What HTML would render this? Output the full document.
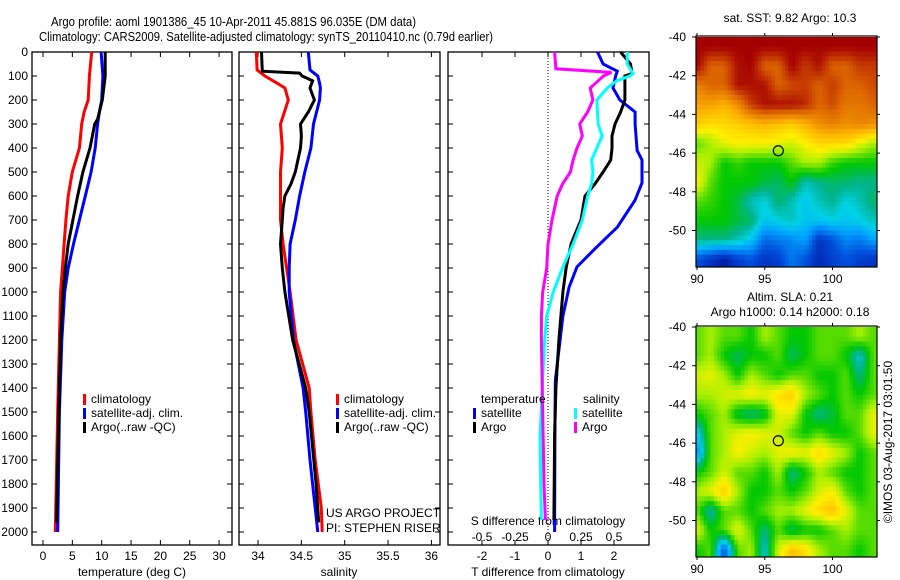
<!DOCTYPE html>
<html><head><meta charset="utf-8"><style>
body{margin:0;background:#fff}
svg{display:block;font-family:"Liberation Sans",sans-serif}
</style></head><body>
<svg id="c" width="900" height="580" xmlns="http://www.w3.org/2000/svg">
<text x="51" y="26" font-size="13" textLength="365" lengthAdjust="spacingAndGlyphs">Argo profile: aoml 1901386_45 10-Apr-2011 45.881S 96.035E (DM data)</text>
<text x="39" y="41" font-size="13" textLength="454" lengthAdjust="spacingAndGlyphs">Climatology: CARS2009. Satellite-adjusted climatology: synTS_20110410.nc (0.79d earlier)</text>
<text x="790" y="22" font-size="12" text-anchor="middle">sat. SST: 9.82 Argo: 10.3</text>
<text x="790" y="301" font-size="12" text-anchor="middle">Altim. SLA: 0.21</text>
<text x="790" y="316" font-size="12" text-anchor="middle">Argo h1000: 0.14 h2000: 0.18</text>
<text transform="translate(892,442) rotate(-90)" font-size="12" text-anchor="middle">©IMOS 03-Aug-2017 03:01:50</text>
<g id="g"></g>
</svg>
<script>
// ---- profile data (depth in m) ----
const depthT=[0,100,200,250,300,400,500,600,700,800,900,1000,1200,1500,2000];
const tempClim=[8.3,7.9,7.7,7.0,6.6,6.2,5.0,4.3,3.9,3.6,3.3,3.0,2.8,2.5,2.1];
const tempSat=[9.9,10.2,10.0,9.6,9.3,8.9,8.2,7.2,6.2,5.2,4.3,3.7,3.2,2.8,2.5];
const depthA=[0,100,200,280,300,400,500,600,700,800,900,1000,1200,1500,1960];
const tempArgo=[10.6,10.6,10.1,9.3,8.8,8.0,6.8,5.9,5.1,4.3,3.8,3.4,3.0,2.7,2.3];
const depthS=[0,75,100,130,150,200,300,400,500,600,700,800,900,1000,1200,1400,1500,1700,1900,2000];
const salClim=[33.98,33.99,34.08,34.22,34.31,34.35,34.26,34.28,34.26,34.26,34.26,34.29,34.33,34.37,34.44,34.59,34.61,34.66,34.73,34.74];
const salSat=[34.58,34.6,34.69,34.71,34.72,34.71,34.64,34.61,34.54,34.48,34.43,34.37,34.36,34.36,34.41,34.52,34.55,34.6,34.66,34.69];
const depthSA=[0,80,88,100,120,150,200,250,300,350,400,500,550,600,650,700,800,900,1000,1200,1400,1500,1800,1960];
const salArgo=[34.04,34.05,34.48,34.51,34.63,34.6,34.65,34.58,34.49,34.5,34.49,34.43,34.38,34.31,34.29,34.28,34.26,34.28,34.31,34.4,34.55,34.59,34.67,34.7];
// differences
const depthD=[0,50,80,100,150,200,250,300,410,450,545,617,730,812,895,980,1100,1370,1600,2000];
const dTsat=[1.5,1.67,2.1,2.05,1.97,2.18,2.64,2.64,2.7,2.85,2.85,2.64,2.1,1.48,0.88,0.64,0.45,0.22,0.21,0.2];
const depthDA=[0,50,90,100,150,200,250,300,350,400,450,500,550,600,700,750,800,900,1000,1200,1400,1600,1950];
const dTargo=[2.2,2.5,2.55,2.33,2.33,2.33,2.2,2.03,1.94,1.94,1.9,1.67,1.42,1.12,1.0,0.85,0.7,0.55,0.45,0.33,0.24,0.2,0.18];
const depthDS=[0,50,90,100,120,150,200,300,350,400,450,500,550,600,650,700,800,900,1000,1100,1200,1400,1600,1800,1950];
const dSsat=[0.6,0.6,0.645,0.62,0.52,0.45,0.37,0.38,0.41,0.37,0.33,0.34,0.33,0.3,0.28,0.26,0.19,0.11,0.04,-0.01,-0.025,-0.045,-0.06,-0.055,-0.05];
const depthDSA=[0,70,85,100,120,150,200,250,300,350,400,450,500,550,600,700,800,900,1000,1100,1200,1500,1800,1950];
const dSargo=[0.05,0.06,0.48,0.42,0.38,0.32,0.34,0.3,0.24,0.26,0.22,0.19,0.17,0.11,0.07,0.03,0,-0.01,-0.04,-0.05,-0.05,-0.04,-0.03,-0.02];
const depthTicks=[0,100,200,300,400,500,600,700,800,900,1000,1100,1200,1300,1400,1500,1600,1700,1800,1900,2000];
const tempTicks=[0,5,10,15,20,25,30];
const salTicks=[34,34.5,35,35.5,36];
const salTickLabels=['34','34.5','35','35.5','36'];
const dTTicks=[-2,-1,0,1,2];
const dSTicks=[-0.5,-0.25,0,0.25,0.5];
const dSTickLabels=['-0.5','-0.25','0','0.25','0.5'];
// ---- map data (rows lat -40.5..-51.5, cols lon 90..103), colormap index 0..1 ----
const sstGrid=[
[.97,.97,.97,.97,.97,.97,.97,.97,.97,.97,.97,.97,.97,.97],
[.97,.85,.85,.95,.97,.85,.85,.97,.9,.95,.85,.85,.9,.9],
[.8,.85,.85,.95,.95,.95,.85,.88,.9,.85,.9,.85,.85,.88],
[.75,.75,.72,.78,.9,.95,.95,.95,.92,.85,.88,.82,.82,.85],
[.68,.65,.66,.68,.7,.72,.7,.68,.72,.78,.8,.78,.8,.78],
[.5,.55,.6,.62,.62,.62,.6,.58,.62,.66,.66,.66,.6,.55],
[.58,.55,.45,.48,.45,.45,.45,.5,.55,.55,.48,.45,.45,.45],
[.62,.5,.45,.45,.45,.42,.4,.45,.35,.38,.4,.4,.38,.38],
[.5,.48,.45,.42,.35,.32,.4,.35,.3,.35,.38,.32,.35,.4],
[.45,.45,.45,.42,.4,.3,.32,.35,.3,.3,.32,.3,.32,.35],
[.38,.38,.38,.35,.3,.18,.2,.22,.25,.1,.15,.22,.2,.25],
[.15,.1,.05,.12,.15,.1,.12,.2,.15,.08,.12,.15,.12,.1]];
const slaGrid=[
[.5,.55,.5,.5,.45,.55,.5,.45,.45,.5,.5,.5,.55,.5],
[.5,.55,.45,.4,.45,.45,.5,.4,.45,.5,.5,.45,.33,.5],
[.58,.6,.55,.45,.55,.5,.45,.5,.5,.45,.45,.5,.38,.5],
[.55,.55,.58,.6,.62,.6,.65,.68,.55,.5,.45,.5,.45,.5],
[.45,.5,.55,.42,.38,.42,.6,.6,.45,.38,.42,.5,.5,.6],
[.3,.5,.55,.6,.62,.6,.58,.5,.45,.5,.45,.45,.5,.6],
[.22,.5,.55,.62,.58,.55,.6,.62,.6,.66,.6,.55,.45,.5],
[.45,.5,.58,.5,.5,.45,.55,.38,.45,.55,.5,.45,.45,.5],
[.55,.6,.68,.55,.45,.45,.5,.45,.5,.58,.62,.5,.45,.5],
[.5,.35,.5,.5,.45,.5,.55,.55,.6,.66,.7,.6,.5,.5],
[.6,.45,.5,.6,.5,.38,.5,.4,.45,.45,.5,.55,.5,.5],
[.45,.5,.15,.5,.55,.33,.58,.7,.65,.55,.5,.5,.45,.5]];
const mapLatTicks=[-40,-42,-44,-46,-48,-50];
const mapLonTicks=[90,95,100];
const argoLon=96.0, argoLat=-45.88;

const NS='http://www.w3.org/2000/svg';
const G=document.getElementById('g');
function el(t,a,p){const e=document.createElementNS(NS,t);for(const k in a)e.setAttribute(k,a[k]);(p||G).appendChild(e);return e;}
const Y=d=>52+d*0.24;
const PT={x0:32,x1:232}, PS={x0:239,x1:440}, PD={x0:448,x1:649};
const yTop=52,yBot=545;
const xT=t=>43+5.87*t, xS=s=>258+86.7*(s-34), xDT=t=>548+33*t, xDS=s=>548+132*s;

function frame(p,name){
  const r=el('rect',{x:p.x0,y:yTop,width:p.x1-p.x0,height:yBot-yTop,fill:'none',stroke:'#000','stroke-width':1.3});
  
  depthTicks.forEach(d=>{el('line',{x1:p.x0,x2:p.x0+5,y1:Y(d),y2:Y(d),stroke:'#000'});el('line',{x1:p.x1,x2:p.x1-5,y1:Y(d),y2:Y(d),stroke:'#000'});});
}
function xticks(vals,fx,labels,ly,name){
  vals.forEach((v,i)=>{const x=fx(v);el('line',{x1:x,x2:x,y1:yTop,y2:yTop+5,stroke:'#000'});el('line',{x1:x,x2:x,y1:yBot,y2:yBot-5,stroke:'#000'});
    const t=el('text',{x:x,y:ly,'font-size':12,'text-anchor':'middle'});t.textContent=labels?labels[i]:String(v);
    });
}
function line(xs,ds,fx,col,name){
  const pts=xs.map((v,i)=>fx(v).toFixed(1)+','+Y(ds[i]).toFixed(1)).join(' ');
  const p=el('polyline',{points:pts,fill:'none',stroke:col,'stroke-width':3,'stroke-linejoin':'miter'});
  
}
function txt(x,y,s,name,size,anchor){const t=el('text',{x:x,y:y,'font-size':size||12,'text-anchor':anchor||'start'});t.textContent=s;
  return t;}
function legend(x,y,col,s,name){el('rect',{x:x,y:y-9,width:3,height:11,fill:col});txt(x+8,y,s,name);}

// panel 1
frame(PT,'temperature-panel');
depthTicks.forEach(d=>{txt(28,Y(d)+4,String(d),'depth-tick-label',12,'end');});
xticks(tempTicks,xT,null,560,'temperature-tick-label');
txt(132,576,'temperature (deg C)','temperature-axis-title',12,'middle');
line(tempClim,depthT,xT,'#f00','temp-climatology-line');
line(tempSat,depthT,xT,'#00f','temp-satellite-line');
line(tempArgo,depthA,xT,'#000','temp-argo-line');
legend(83,403,'#f00','climatology','legend-climatology');
legend(83,417,'#00f','satellite-adj. clim.','legend-satellite');
legend(83,431,'#000','Argo(..raw -QC)','legend-argo');
// panel 2
frame(PS,'salinity-panel');
xticks(salTicks,xS,salTickLabels,560,'salinity-tick-label');
txt(339,576,'salinity','salinity-axis-title',12,'middle');
line(salClim,depthS,xS,'#f00','sal-climatology-line');
line(salSat,depthS,xS,'#00f','sal-satellite-line');
line(salArgo,depthSA,xS,'#000','sal-argo-line');
legend(336,403,'#f00','climatology','legend-climatology');
legend(336,417,'#00f','satellite-adj. clim.','legend-satellite');
legend(336,431,'#000','Argo(..raw -QC)','legend-argo');
txt(326,517,'US ARGO PROJECT','project-label',12);
txt(326,532,'PI: STEPHEN RISER','pi-label',12);
// panel 3
frame(PD,'difference-panel');
el('line',{x1:xDT(0),x2:xDT(0),y1:yTop,y2:yBot,stroke:'#000','stroke-dasharray':'1,2'});
xticks(dTTicks,xDT,null,560,'t-diff-tick-label');
dSTicks.forEach((v,i)=>{txt(xDS(v),541,dSTickLabels[i],'s-diff-tick-label',12,'middle');});
txt(548,525,'S difference from climatology','s-diff-axis-title',12,'middle');
txt(548,576,'T difference from climatology','t-diff-axis-title',12,'middle');
line(dTsat,depthD,xDT,'#00f','dT-satellite-line');
line(dTargo,depthDA,xDT,'#000','dT-argo-line');
line(dSsat,depthDS,xDS,'#0ff','dS-satellite-line');
line(dSargo,depthDSA,xDS,'#f0f','dS-argo-line');
txt(481,403,'temperature','legend-temperature-heading');
txt(583,403,'salinity','legend-salinity-heading');
legend(473,417,'#00f','satellite','legend-t-satellite');
legend(473,431,'#000','Argo','legend-t-argo');
legend(574,417,'#0ff','satellite','legend-s-satellite');
legend(574,431,'#f0f','Argo','legend-s-argo');

// maps
const cmStops=[[0,0,0,140],[.15,0,80,220],[.25,0,160,255],[.32,0,210,230],[.38,0,180,140],[.45,0,200,0],[.55,170,240,0],[.62,255,240,0],[.72,255,180,0],[.85,220,100,0],[.97,165,0,0],[1,160,0,0]];
function cmap(v){v=Math.max(0,Math.min(1,v));
  for(let i=1;i<cmStops.length;i++){const a=cmStops[i-1],b=cmStops[i];if(v<=b[0]){const t=(v-a[0])/(b[0]-a[0]);
    return 'rgb('+[1,2,3].map(k=>Math.round(a[k]+t*(b[k]-a[k]))).join(',')+')';}}
  return 'rgb(160,0,0)';}
function map(grid,top,name){
  const x0=696,x1=877,h=231, lonX=l=>697+13.55*(l-90), latY=la=>top+1+19.35*(-40-la);
  const gg=el('g',{});
  const R=grid.length,C=grid[0].length,up=4;
  const val=(r,c)=>grid[Math.max(0,Math.min(R-1,r))][Math.max(0,Math.min(C-1,c))];
  for(let i=0;i<R*up;i++)for(let j=0;j<C*up;j++){
    const fr=(i+0.5)/up-0.5, fc=(j+0.5)/up-0.5, r0=Math.floor(fr), c0=Math.floor(fc), a=fr-r0, b=fc-c0;
    const v=(1-a)*((1-b)*val(r0,c0)+b*val(r0,c0+1))+a*((1-b)*val(r0+1,c0)+b*val(r0+1,c0+1));
    const xa=lonX(89.5+j/up), xb=lonX(89.5+(j+1)/up), ya=latY(-40-i/up), yb=latY(-40-(i+1)/up);
    const cx=Math.max(x0,xa), cw=Math.min(x1,xb)-cx; if(cw<=0)continue;
    const cy=Math.max(top,ya), ch=Math.min(top+h,yb)-cy; if(ch<=0)continue;
    el('rect',{x:cx,y:cy,width:cw+0.4,height:ch+0.4,fill:cmap(v)},gg);
  }
  el('rect',{x:x0,y:top,width:x1-x0,height:h,fill:'none',stroke:'#000','stroke-width':1.2});
  mapLatTicks.forEach(la=>{const y=latY(la);el('line',{x1:x0-4,x2:x0,y1:y,y2:y,stroke:'#000'});el('line',{x1:x1,x2:x1+3,y1:y,y2:y,stroke:'#000'});
    txt(x0-10,y+4,String(la),'map-lat-tick-label',12,'end');});
  mapLonTicks.forEach(l=>{const x=lonX(l);el('line',{x1:x,x2:x,y1:top-3,y2:top,stroke:'#000'});el('line',{x1:x,x2:x,y1:top+h,y2:top+h+3,stroke:'#000'});
    txt(x,top+h+16,String(l),'map-lon-tick-label',12,'middle');});
  const c=el('circle',{cx:lonX(argoLon),cy:latY(argoLat),r:5,fill:'none',stroke:'#000','stroke-width':1.2});
  
}
map(sstGrid,36,'sst-map');
map(slaGrid,326,'sla-map');
</script>
</body></html>
